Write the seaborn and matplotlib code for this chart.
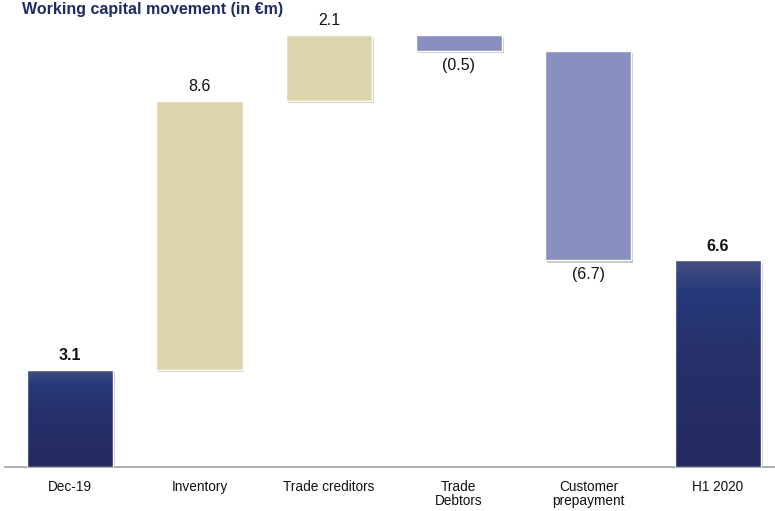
import numpy as np
import pandas as pd
import matplotlib
matplotlib.use("Agg")
import matplotlib.pyplot as plt
import seaborn as sns
from matplotlib.patches import Rectangle
from matplotlib.colors import LinearSegmentedColormap

categories = ["Dec-19", "Inventory", "Trade creditors", "Trade\nDebtors", "Customer\nprepayment", "H1 2020"]
values = [3.1, 8.6, 2.1, -0.5, -6.7, 6.6]
kinds = ["total", "up", "up", "down", "down", "total"]
labels = ["3.1", "8.6", "2.1", "(0.5)", "(6.7)", "6.6"]

# compute waterfall bottoms
bottoms = []
run = 0.0
for v, k in zip(values, kinds):
    if k == "total":
        bottoms.append(0.0)
        run = v
    elif v >= 0:
        bottoms.append(run)
        run += v
    else:
        run += v
        bottoms.append(run)
heights = [abs(v) for v in values]

df = pd.DataFrame({"cat": categories, "h": heights})

sns.set_theme(style="white")
plt.rcParams["font.family"] = ["Liberation Sans", "DejaVu Sans"]

fig = plt.figure(figsize=(7.75, 5.11), dpi=100)
ax = fig.add_axes([5 / 775, 44 / 511, 770 / 775, 467 / 511])

color_map = {"total": "#27306a", "up": "#ddd5ab", "down": "#8890c0"}
palette = [color_map[k] for k in kinds]
sns.barplot(data=df, x="cat", y="h", hue="cat", palette=palette, legend=False,
            width=0.665, ax=ax, saturation=1.0, edgecolor="white", linewidth=1.0)

ax.set_xlim(-0.50, 5.44)
ax.set_ylim(0, 467 / 31.3)

grad_cmap = LinearSegmentedColormap.from_list(
    "navy", [(0.0, "#252b60"), (0.55, "#26306a"), (0.85, "#263a7c"), (1.0, "#46507f")])

for p, b, h, k, lab, v in zip(ax.patches, bottoms, heights, kinds, labels, values):
    p.set_y(b)
    p.set_height(h)
    p.set_zorder(3)
    x0, w = p.get_x(), p.get_width()
    # shadow
    sh = Rectangle((x0 + 0.015, b - 0.08), w, h, facecolor="#9a9a9a", edgecolor="none",
                   alpha=0.55, zorder=2)
    ax.add_patch(sh)
    if k == "total":
        grad = np.linspace(0, 1, 256).reshape(-1, 1)
        im = ax.imshow(grad, cmap=grad_cmap, origin="lower", aspect="auto",
                       extent=(x0, x0 + w, b, b + h), zorder=3.5)
        im.set_clip_path(p)
        p.set_facecolor("none")
        p.set_zorder(4)
    xc = x0 + w / 2
    if v >= 0:
        ax.text(xc, b + h + 0.22, lab, ha="center", va="bottom", fontsize=11.5,
                fontweight="bold" if k == "total" else "normal", color="#111111")
    else:
        ax.text(xc, b - 0.22, lab, ha="center", va="top", fontsize=11.5, color="#111111")

ax.set_xlabel("")
ax.set_ylabel("")
ax.set_yticks([])
for s in ["top", "right", "left"]:
    ax.spines[s].set_visible(False)
ax.spines["bottom"].set_color("#a0a0a0")
ax.spines["bottom"].set_linewidth(1.2)
ax.tick_params(axis="x", length=0, labelsize=9.8, pad=9, colors="#111111")
for t in ax.get_xticklabels():
    t.set_linespacing(1.05)
    t.set_verticalalignment("top")

fig.text(22 / 775, (511 - 2) / 511, "Working capital movement (in €m)", ha="left",
         va="top", fontsize=11.5, fontweight="bold", color="#1f2a6b")

fig.savefig("out.png", dpi=100)
